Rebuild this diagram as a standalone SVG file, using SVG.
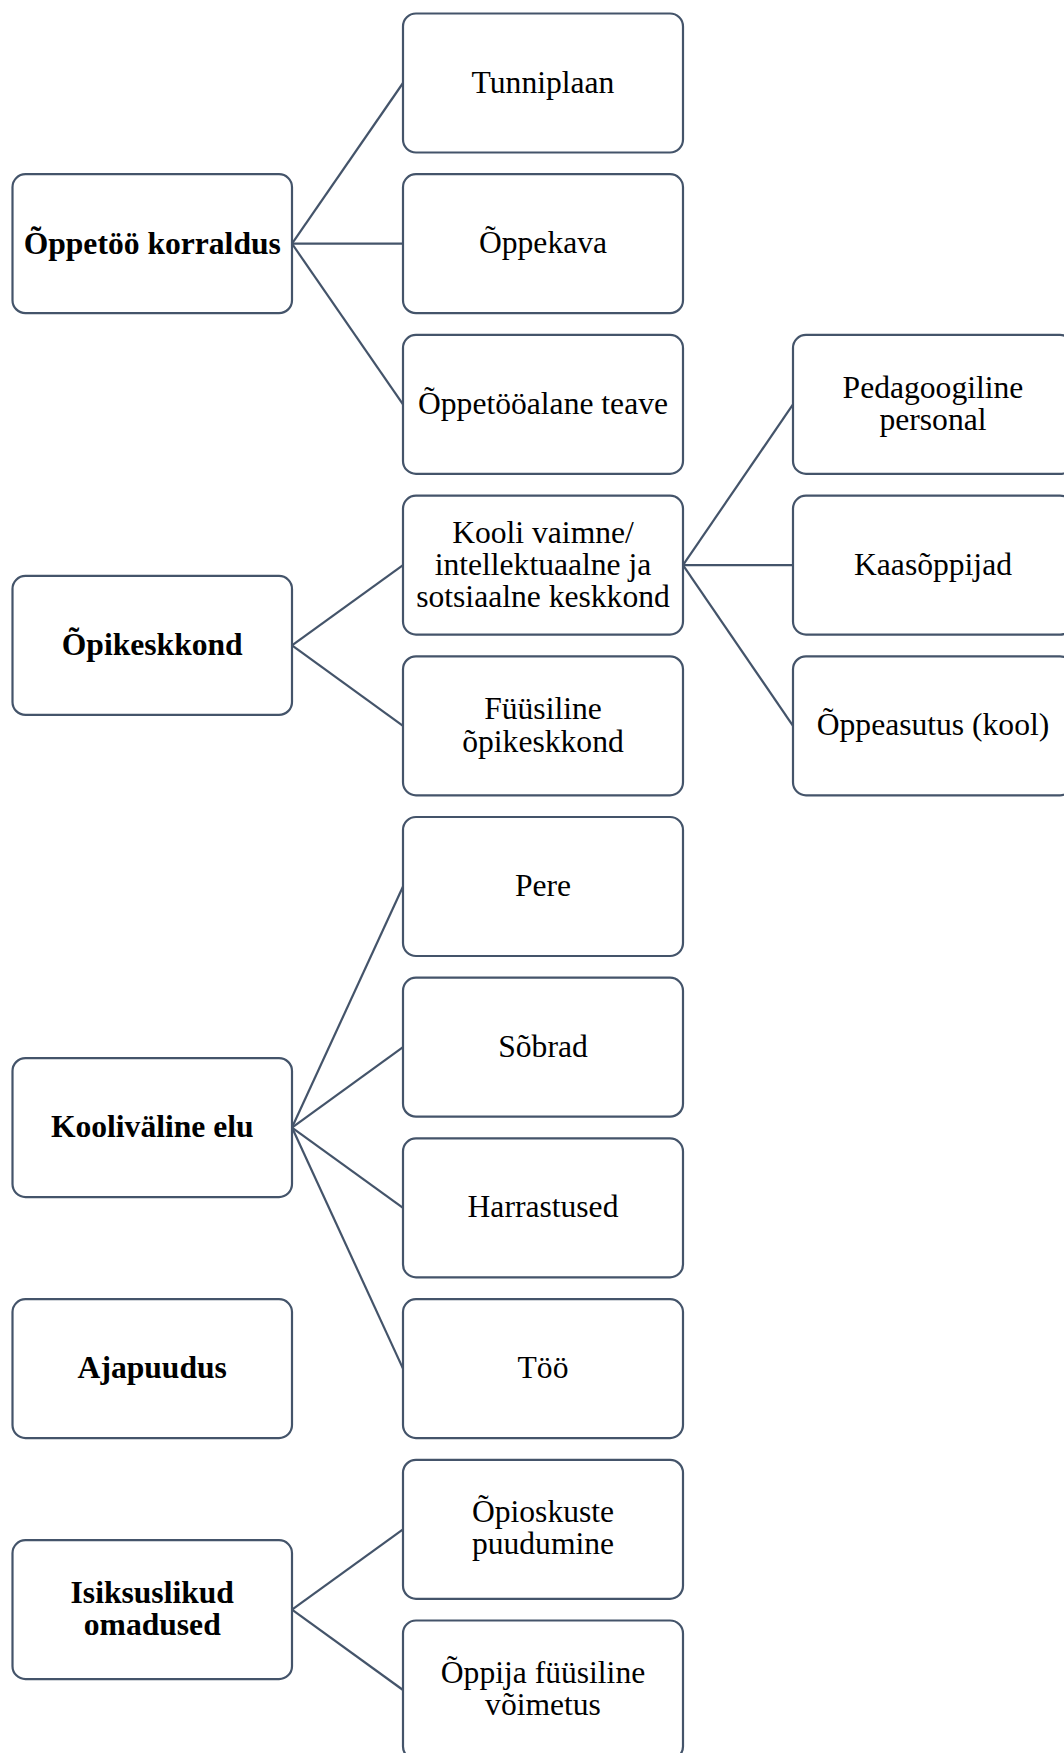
<svg xmlns="http://www.w3.org/2000/svg" width="1064" height="1753" viewBox="0 0 1064 1753">
<style>
.box{fill:#ffffff;stroke:#44546A;stroke-width:2.2}
.lnk{stroke:#44546A;stroke-width:2.2;fill:none}
.t{font-family:"Liberation Serif","Times New Roman",serif;font-size:31.6px;fill:#000;text-anchor:middle}
.b{font-weight:bold}
</style>
<rect width="1064" height="1753" fill="#ffffff"/>
<g id="connectors">
<line class="lnk" x1="292" y1="243.7" x2="403" y2="83"/>
<line class="lnk" x1="292" y1="243.7" x2="403" y2="243.7"/>
<line class="lnk" x1="292" y1="243.7" x2="403" y2="404.4"/>
<line class="lnk" x1="292" y1="645.45" x2="403" y2="565.1"/>
<line class="lnk" x1="292" y1="645.45" x2="403" y2="725.8"/>
<line class="lnk" x1="683" y1="565.1" x2="793" y2="404.4"/>
<line class="lnk" x1="683" y1="565.1" x2="793" y2="565.1"/>
<line class="lnk" x1="683" y1="565.1" x2="793" y2="725.8"/>
<line class="lnk" x1="292" y1="1127.55" x2="403" y2="886.5"/>
<line class="lnk" x1="292" y1="1127.55" x2="403" y2="1047.2"/>
<line class="lnk" x1="292" y1="1127.55" x2="403" y2="1207.9"/>
<line class="lnk" x1="292" y1="1127.55" x2="403" y2="1368.6"/>
<line class="lnk" x1="292" y1="1609.65" x2="403" y2="1529.3"/>
<line class="lnk" x1="292" y1="1609.65" x2="403" y2="1690"/>
</g>
<g id="n-oppetoo-korraldus"><rect class="box" x="12.5" y="174.2" width="279.5" height="139" rx="13"/><text class="t b" x="152.25" y="253.5">Õppetöö korraldus</text></g>
<g id="n-tunniplaan"><rect class="box" x="403" y="13.5" width="280" height="139" rx="13"/><text class="t" x="543" y="92.5">Tunniplaan</text></g>
<g id="n-oppekava"><rect class="box" x="403" y="174.2" width="280" height="139" rx="13"/><text class="t" x="543" y="253.2">Õppekava</text></g>
<g id="n-oppetooalane"><rect class="box" x="403" y="334.9" width="280" height="139" rx="13"/><text class="t" x="543" y="413.9">Õppetööalane teave</text></g>
<g id="n-opikeskkond"><rect class="box" x="12.5" y="575.95" width="279.5" height="139" rx="13"/><text class="t b" x="152.25" y="655">Õpikeskkond</text></g>
<g id="n-kooli-vaimne"><rect class="box" x="403" y="495.6" width="280" height="139" rx="13"/><text class="t" x="543" y="542.5">Kooli vaimne/</text><text class="t" x="543" y="574.8">intellektuaalne ja</text><text class="t" x="543" y="607.1">sotsiaalne keskkond</text></g>
<g id="n-fuusiline"><rect class="box" x="403" y="656.3" width="280" height="139" rx="13"/><text class="t" x="543" y="719.2">Füüsiline</text><text class="t" x="543" y="751.5">õpikeskkond</text></g>
<g id="n-pedagoogiline"><rect class="box" x="793" y="334.9" width="280" height="139" rx="13"/><text class="t" x="933" y="397.8">Pedagoogiline</text><text class="t" x="933" y="430.1">personal</text></g>
<g id="n-kaasoppijad"><rect class="box" x="793" y="495.6" width="280" height="139" rx="13"/><text class="t" x="933" y="574.6">Kaasõppijad</text></g>
<g id="n-oppeasutus"><rect class="box" x="793" y="656.3" width="280" height="139" rx="13"/><text class="t" x="933" y="735.3">Õppeasutus (kool)</text></g>
<g id="n-koolivaline"><rect class="box" x="12.5" y="1058.05" width="279.5" height="139" rx="13"/><text class="t b" x="152.25" y="1137">Kooliväline elu</text></g>
<g id="n-pere"><rect class="box" x="403" y="817" width="280" height="139" rx="13"/><text class="t" x="543" y="896">Pere</text></g>
<g id="n-sobrad"><rect class="box" x="403" y="977.7" width="280" height="139" rx="13"/><text class="t" x="543" y="1056.7">Sõbrad</text></g>
<g id="n-harrastused"><rect class="box" x="403" y="1138.4" width="280" height="139" rx="13"/><text class="t" x="543" y="1217.4">Harrastused</text></g>
<g id="n-too"><rect class="box" x="403" y="1299.1" width="280" height="139" rx="13"/><text class="t" x="543" y="1378.1">Töö</text></g>
<g id="n-ajapuudus"><rect class="box" x="12.5" y="1299.1" width="279.5" height="139" rx="13"/><text class="t b" x="152.25" y="1378.1">Ajapuudus</text></g>
<g id="n-isiksuslikud"><rect class="box" x="12.5" y="1540.15" width="279.5" height="139" rx="13"/><text class="t b" x="152.25" y="1603">Isiksuslikud</text><text class="t b" x="152.25" y="1635.3">omadused</text></g>
<g id="n-opioskuste"><rect class="box" x="403" y="1459.8" width="280" height="139" rx="13"/><text class="t" x="543" y="1521.5">Õpioskuste</text><text class="t" x="543" y="1553.8">puudumine</text></g>
<g id="n-oppija"><rect class="box" x="403" y="1620.5" width="280" height="139" rx="13"/><text class="t" x="543" y="1682.5">Õppija füüsiline</text><text class="t" x="543" y="1714.8">võimetus</text></g>
</svg>
